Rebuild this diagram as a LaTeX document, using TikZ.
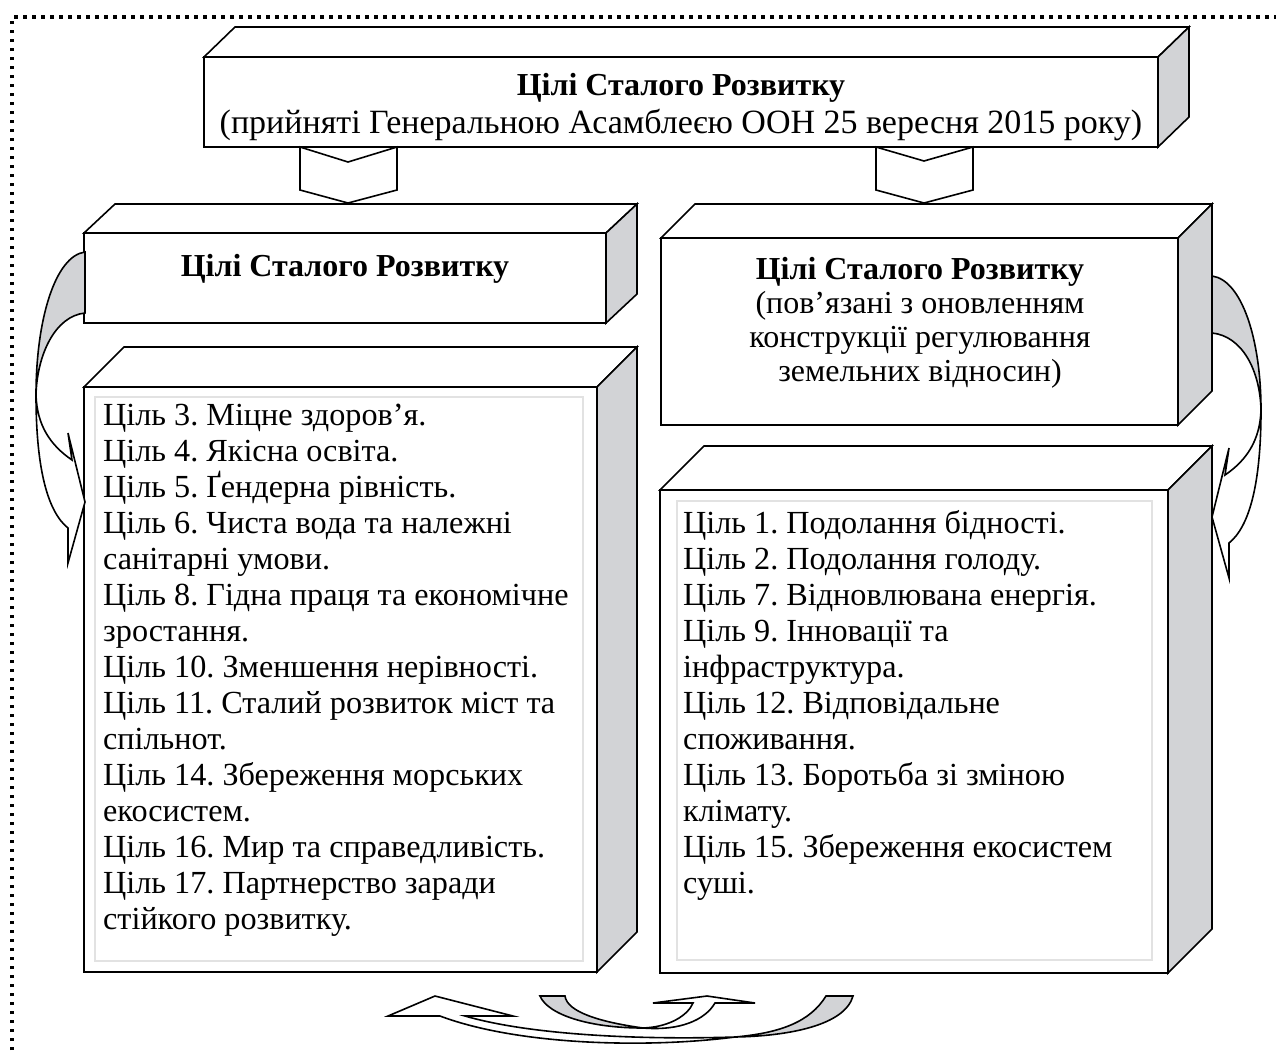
\documentclass[tikz,border=0pt]{standalone}
\usepackage{fontspec}
\setmainfont{Liberation Serif}
\frenchspacing
\definecolor{sidegrey}{RGB}{210,211,214}
\definecolor{innergrey}{RGB}{226,226,226}
\newcommand\cubefaces[3]{%
  \filldraw[outl, fill=white] (#1.north west) -- ++(#2,-#3) -- ([shift={(#2,-#3)}]#1.north east) -- (#1.north east) -- cycle;
  \filldraw[outl, fill=sidegrey] (#1.north east) -- ++(#2,-#3) -- ([shift={(#2,-#3)}]#1.south east) -- (#1.south east) -- cycle;}
\begin{document}
\begin{tikzpicture}[x=1pt,y=-1pt,line join=miter,
  outl/.style={draw=black,line width=1.6pt},
  front/.style={rectangle,draw=black,fill=white,line width=1.6pt,outer sep=0pt,inner sep=0pt,anchor=north west},
  innerline/.style={draw=innergrey,line width=1.4pt},
  listtext/.style={anchor=north west,inner sep=0pt,align=left,font=\fontsize{32.2}{36}\selectfont},
  boldtext/.style={inner sep=0pt,align=center,font=\fontsize{32}{36}\selectfont\bfseries},
  border/.style={line width=3.5pt,dash pattern=on 3.5pt off 5.5pt}]
\useasboundingbox (0,0) rectangle (1276,1050);
% dotted frame
\coordinate (fbl) at (12,1050);
\coordinate (ftl) at (12,17);
\coordinate (ftr) at (1276,17);
\draw[border] (fbl) -- (ftl) -- (ftr);

% top box
\node[front,minimum width=954pt,minimum height=90pt] (top) at (204,57) {};
\cubefaces{top}{31}{30}
\node[inner sep=0pt,align=center,font=\fontsize{32}{38}\selectfont,anchor=north] (toptext) at (681,73)
  {\textbf{Цілі Сталого Розвитку}\\{\fontsize{34}{38}\selectfont(прийняті Генеральною Асамблеєю ООН 25 вересня 2015 року)}};

% down arrows
\filldraw[outl,fill=white] (300,147) -- (348,162) -- (397,147) -- (397,190) -- (348,203) -- (300,190) -- cycle;
\filldraw[outl,fill=white] (876,147) -- (924,161) -- (973,147) -- (973,190) -- (924,203) -- (876,190) -- cycle;

% upper left box
\node[front,minimum width=522pt,minimum height=90pt] (ul) at (84,233) {};
\cubefaces{ul}{31}{29}
\node[boldtext] (ultext) at (345,269) {Цілі Сталого Розвитку};

% upper right box
\node[front,minimum width=517pt,minimum height=187pt] (ur) at (661,238) {};
\cubefaces{ur}{34}{34}
\node[inner sep=0pt,align=center,font=\fontsize{32}{34}\selectfont,anchor=north] (urtext) at (920,257)
  {\textbf{Цілі Сталого Розвитку}\\(пов’язані з оновленням\\конструкції регулювання\\земельних відносин)};

% lower left box
\node[front,minimum width=513pt,minimum height=585pt] (ll) at (84,387) {};
\cubefaces{ll}{40}{40}
\draw[innerline] ([shift={(11,10)}]ll.north west) rectangle ([shift={(-14,-11)}]ll.south east);
\node[listtext] (lltext) at (103,404) {Ціль 3. Міцне здоров’я.\\
Ціль 4. Якісна освіта.\\
Ціль 5. Ґендерна рівність.\\
Ціль 6. Чиста вода та належні\\
санітарні умови.\\
Ціль 8. Гідна праця та економічне\\
зростання.\\
Ціль 10. Зменшення нерівності.\\
Ціль 11. Сталий розвиток міст та\\
спільнот.\\
Ціль 14. Збереження морських\\
екосистем.\\
Ціль 16. Мир та справедливість.\\
Ціль 17. Партнерство заради\\
стійкого розвитку.};

% lower right box
\node[front,minimum width=508pt,minimum height=483pt] (lr) at (660,490) {};
\cubefaces{lr}{44}{44}
\draw[innerline] ([shift={(17,11)}]lr.north west) rectangle ([shift={(-16,-13)}]lr.south east);
\node[listtext] (lrtext) at (683,510) {Ціль 1. Подолання бідності.\\
Ціль 2. Подолання голоду.\\
Ціль 7. Відновлювана енергія.\\
Ціль 9. Інновації та\\
інфраструктура.\\
Ціль 12. Відповідальне\\
споживання.\\
Ціль 13. Боротьба зі зміною\\
клімату.\\
Ціль 15. Збереження екосистем\\
суші.};

% left curved arrow
\filldraw[outl,fill=sidegrey] (85,252) .. controls (55,256) and (36,320) .. (36,395)
  .. controls (37,355) and (55,316) .. (85,313) -- cycle;
\filldraw[outl,fill=white] (36,395) .. controls (36,470) and (48,512) .. (68,528) -- (68,563) -- (85,502) -- (68,433) -- (72,460)
  .. controls (50,445) and (37,425) .. (36,395) -- cycle;

% right curved arrow
\filldraw[outl,fill=sidegrey] (1212,276) .. controls (1242,280) and (1261,340) .. (1261,410)
  .. controls (1260,370) and (1242,336) .. (1212,333) -- cycle;
\filldraw[outl,fill=white] (1261,410) .. controls (1261,485) and (1249,527) .. (1229,543) -- (1229,578) -- (1212,517) -- (1229,448) -- (1225,475)
  .. controls (1247,460) and (1260,440) .. (1261,410) -- cycle;

% bottom big arrow
\filldraw[outl,fill=sidegrey] (826,996) .. controls (810,1022) and (780,1033) .. (735,1037)
  .. controls (790,1036) and (845,1025) .. (853,996) -- cycle;
\filldraw[outl,fill=white] (735,1037) .. controls (640,1040) and (530,1035) .. (465,1016) -- (513,1016) -- (435,996) -- (388,1016) -- (440,1016)
  .. controls (520,1046) and (650,1048) .. (735,1037) -- cycle;

% bottom small arrow
\filldraw[outl,fill=sidegrey] (540,996) .. controls (548,1015) and (590,1028) .. (643,1028)
  .. controls (600,1022) and (567,1012) .. (565,996) -- cycle;
\filldraw[outl,fill=white] (643,1028) .. controls (670,1027) and (688,1015) .. (693,1003) -- (653,1003) -- (707,996) -- (755,1003) -- (715,1003)
  .. controls (705,1020) and (680,1031) .. (643,1028) -- cycle;
\end{tikzpicture}
\end{document}
